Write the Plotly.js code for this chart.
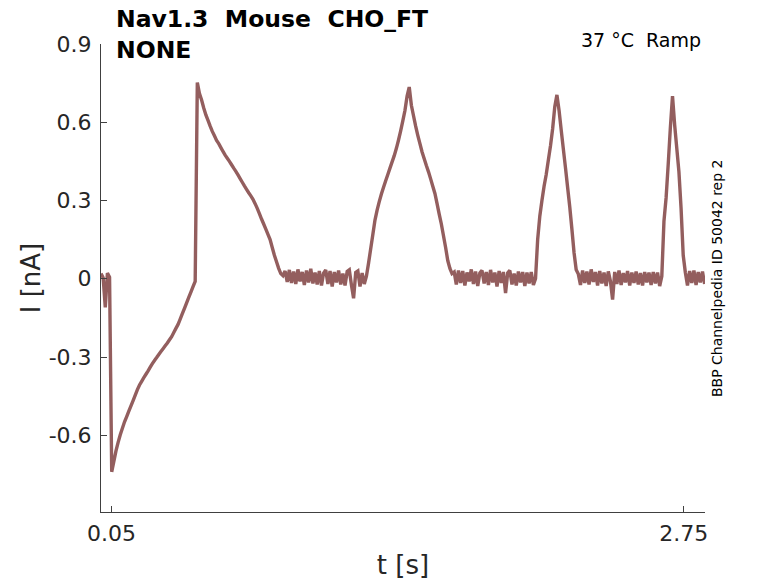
<!DOCTYPE html>
<html>
<head>
<meta charset="utf-8">
<script src="https://cdn.plot.ly/plotly-3.0.1.min.js"></script>
<style>
  html, body { margin: 0; padding: 0; background: #fff; }
  #chart { width: 778px; height: 583px; }
</style>
</head>
<body>
<div id="chart"></div>
<script>
var tStart = 0.0;
var tStep = 0.0101;

// holding level, short dip, then the step down at 50 ms
var holdCurrent = [0.020, 0.004, -0.11, 0.022, 0.006, -0.74];
// recovery ramp back up to zero
var rampCurrent = [-0.70, -0.66, -0.627, -0.598, -0.573, -0.548, -0.528, -0.507, -0.487, -0.467,
                   -0.446, -0.425, -0.407, -0.393, -0.379, -0.366, -0.353, -0.339, -0.325, -0.313,
                   -0.302, -0.290, -0.279, -0.268, -0.257, -0.246, -0.234, -0.222, -0.206, -0.190,
                   -0.175, -0.155, -0.134, -0.113, -0.092, -0.071, -0.051, -0.030, -0.010];
// first (slow) peak and decay
var peak1Current = [0.752, 0.710, 0.685, 0.655, 0.628, 0.607, 0.585, 0.565, 0.548, 0.530,
                    0.518, 0.503, 0.488, 0.474, 0.462, 0.450, 0.437, 0.424, 0.412, 0.398,
                    0.384, 0.370, 0.356, 0.343, 0.330, 0.318, 0.305, 0.288, 0.270, 0.250,
                    0.229, 0.210, 0.190, 0.170, 0.150, 0.120, 0.090, 0.065, 0.040, 0.020, 0.012];
var base1Current = [0.030, -0.012, 0.034, -0.016, 0.028, -0.020, 0.036, -0.010, 0.026, -0.024,
                    0.032, -0.014, 0.038, -0.018, 0.024, -0.022, 0.030, -0.026, 0.022, 0.034,
                    -0.020, 0.030, -0.030, 0.026, -0.014, 0.032, -0.022, 0.020, -0.026, 0.028,
                    0.034, -0.024, -0.075, 0.024, 0.030, -0.030, 0.022, -0.020];
var peak2Current = [0.010, 0.060, 0.115, 0.170, 0.225, 0.263, 0.296, 0.325, 0.351, 0.376,
                    0.400, 0.424, 0.448, 0.472, 0.500, 0.532, 0.567, 0.605, 0.645, 0.700,
                    0.735, 0.665, 0.625, 0.585, 0.550, 0.518, 0.486, 0.460, 0.434, 0.410,
                    0.383, 0.355, 0.327, 0.288, 0.248, 0.210, 0.165, 0.120, 0.070, 0.040, 0.020];
var base2Current = [0.026, -0.022, 0.032, -0.016, 0.030, -0.026, 0.024, -0.010, 0.036, -0.020,
                    0.028, -0.028, 0.022, 0.032, -0.018, 0.026, -0.024, 0.034, -0.014, 0.024,
                    -0.030, 0.030, -0.016, 0.026, -0.055, 0.022, 0.032, -0.022, 0.020, -0.026,
                    0.028, -0.014, 0.026, -0.028, 0.024, -0.018, 0.026, -0.024];
var peak3Current = [0.000, 0.150, 0.240, 0.300, 0.355, 0.400, 0.455, 0.510, 0.575, 0.660,
                    0.705, 0.645, 0.570, 0.497, 0.425, 0.350, 0.275, 0.190, 0.100, 0.035];
var base3Current = [0.018, -0.024, 0.032, -0.016, 0.028, -0.022, 0.036, -0.012, 0.026, -0.026,
                    0.030, -0.018, 0.024, -0.028, 0.028, -0.010, -0.080, 0.026, -0.020, 0.032,
                    -0.024, 0.022, -0.014, 0.030, -0.026, 0.024, -0.016, 0.028, -0.022, 0.022,
                    -0.026, 0.026, -0.014, 0.024, -0.024, 0.026, -0.018, 0.024, -0.028];
var peak4Current = [0.010, 0.220, 0.310, 0.440, 0.580, 0.700, 0.590, 0.500, 0.410, 0.270, 0.090];
var base4Current = [0.024, -0.026, 0.030, -0.016, 0.032, -0.024, 0.026, -0.014, 0.028, -0.020];

var yTickVals = [-0.6, -0.3, 0, 0.3, 0.6, 0.9];
var yTickText = ['-0.6', '-0.3', '0', '0.3', '0.6', '0.9'];
var xTickVals = [0.05, 2.75];
var xTickText = ['0.05', '2.75'];

var current = [].concat(holdCurrent, rampCurrent, peak1Current, base1Current, peak2Current,
                        base2Current, peak3Current, base3Current, peak4Current, base4Current);
var time = current.map(function (v, i) { return +(tStart + i * tStep).toFixed(4); });

var axisColor = '#404040';
var textColor = '#262626';
var font = 'DejaVu Sans, Liberation Sans, sans-serif';

var trace = {
  x: time,
  y: current,
  type: 'scatter',
  mode: 'lines',
  line: { color: '#935e5e', width: 3.4, simplify: false },
  hoverinfo: 'skip'
};

var layout = {
  width: 778,
  height: 583,
  margin: { l: 101, r: 73, t: 44, b: 71 },
  paper_bgcolor: '#fff',
  plot_bgcolor: '#fff',
  showlegend: false,
  font: { family: font, color: textColor },
  xaxis: {
    range: [0.0, 2.85],
    tickvals: xTickVals,
    ticktext: xTickText,
    ticks: 'inside',
    ticklen: 6,
    tickcolor: axisColor,
    showline: true,
    linecolor: axisColor,
    linewidth: 1,
    showgrid: false,
    zeroline: false,
    ticklabelstandoff: 2,
    tickfont: { size: 22, color: textColor },
    title: { text: 't [s]', font: { size: 26, color: textColor }, standoff: 10 }
  },
  yaxis: {
    range: [-0.894, 0.9],
    tickvals: yTickVals,
    ticktext: yTickText,
    ticks: 'inside',
    ticklen: 6,
    tickcolor: axisColor,
    showline: true,
    linecolor: axisColor,
    linewidth: 1,
    showgrid: false,
    zeroline: false,
    ticklabelstandoff: 4,
    tickfont: { size: 22, color: textColor },
    title: { text: 'I [nA]', font: { size: 26, color: textColor }, standoff: 0 }
  },
  annotations: [
    {
      xref: 'paper', yref: 'paper', x: 0.022, y: 1.087,
      xanchor: 'left', yanchor: 'top', align: 'left', showarrow: false,
      text: '<b>Nav1.3\u00a0\u00a0Mouse\u00a0\u00a0CHO_FT<br>NONE</b>',
      font: { size: 23.5, color: '#000' }
    },
    {
      xref: 'paper', yref: 'paper', x: 0.997, y: 1.009,
      xanchor: 'right', yanchor: 'middle', showarrow: false,
      text: '37 °C\u00a0\u00a0Ramp',
      font: { size: 19, color: '#000' }
    },
    {
      xref: 'paper', yref: 'paper', x: 1.02, y: 0.5,
      xanchor: 'center', yanchor: 'middle', showarrow: false, textangle: -90,
      text: 'BBP Channelpedia ID 50042 rep 2',
      font: { size: 14, color: '#000' }
    }
  ]
};

Plotly.newPlot('chart', [trace], layout, { staticPlot: true, displayModeBar: false });
</script>
</body>
</html>
